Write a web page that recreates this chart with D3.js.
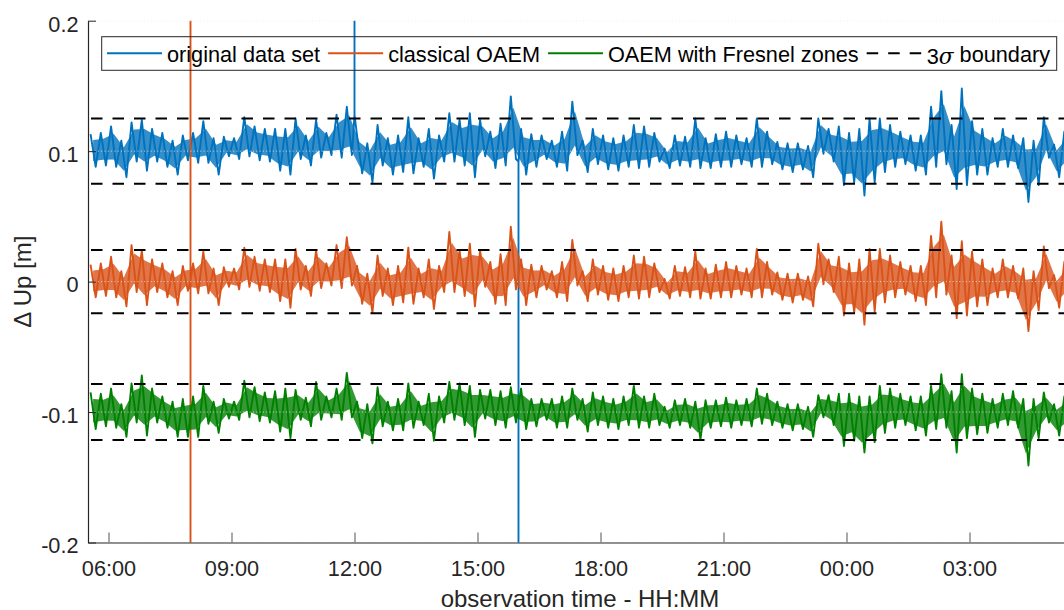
<!DOCTYPE html>
<html>
<head>
<meta charset="utf-8">
<script src="https://cdn.jsdelivr.net/npm/d3@7"></script>
<style>
body { margin: 0; background: #fff; }
svg { display: block; font-family: "Liberation Sans", Arial, Helvetica, sans-serif; }
</style>
</head>
<body>
<script>
// samples are 15 minute bins starting at 05:30, for each bin the highest and lowest value (m)
var binStart = "05:30";
var binMinutes = 15;

var blueHi = [
  0.113,0.114,0.119,0.108,0.122,0.124,0.117,0.114,0.108,0.112,0.114,0.123,
  0.110,0.111,0.110,0.126,0.119,0.117,0.117,0.117,0.125,0.112,0.124,0.114,
  0.128,0.134,0.112,0.106,0.120,0.110,0.112,0.126,0.110,0.117,0.112,0.129,
  0.124,0.129,0.124,0.115,0.121,0.142,0.117,0.113,0.112,0.108,0.115,0.138,
  0.108,0.117,0.112,0.110,0.112,0.120,0.119,0.114,0.102,0.112,0.111,0.125,
  0.110,0.113,0.115,0.112,0.110,0.125,0.115,0.107,0.106,0.106,0.104,0.125,
  0.117,0.119,0.114,0.117,0.125,0.125,0.120,0.115,0.112,0.112,0.134,0.146,
  0.120,0.148,0.123,0.117,0.110,0.117,0.112,0.110,0.108,0.126,0.105,0.115];
var blueLo = [
  0.088,0.089,0.088,0.080,0.092,0.085,0.092,0.088,0.082,0.093,0.091,0.091,
  0.082,0.096,0.094,0.096,0.093,0.092,0.085,0.082,0.094,0.089,0.095,0.097,
  0.095,0.097,0.083,0.076,0.089,0.082,0.084,0.083,0.088,0.079,0.092,0.092,
  0.089,0.080,0.096,0.087,0.089,0.094,0.082,0.088,0.094,0.088,0.085,0.097,
  0.084,0.090,0.086,0.085,0.088,0.087,0.088,0.092,0.087,0.089,0.088,0.087,
  0.087,0.088,0.088,0.090,0.088,0.088,0.090,0.086,0.084,0.086,0.080,0.098,
  0.092,0.074,0.076,0.066,0.076,0.084,0.088,0.090,0.085,0.082,0.088,0.090,
  0.071,0.074,0.082,0.082,0.088,0.088,0.087,0.061,0.074,0.095,0.080,0.088];

var orangeHi = [
  0.013,0.014,0.019,0.008,0.028,0.024,0.017,0.014,0.008,0.012,0.014,0.023,
  0.010,0.011,0.010,0.026,0.019,0.017,0.017,0.017,0.025,0.012,0.024,0.014,
  0.028,0.034,0.012,0.006,0.020,0.010,0.012,0.026,0.010,0.017,0.012,0.038,
  0.024,0.029,0.024,0.015,0.021,0.042,0.017,0.013,0.012,0.008,0.015,0.032,
  0.008,0.017,0.012,0.010,0.012,0.020,0.019,0.014,0.002,0.012,0.011,0.023,
  0.010,0.013,0.015,0.012,0.010,0.025,0.015,0.007,0.006,0.006,0.004,0.029,
  0.017,0.019,0.014,0.017,0.025,0.025,0.020,0.015,0.012,0.012,0.035,0.046,
  0.020,0.031,0.023,0.017,0.010,0.017,0.012,0.010,0.008,0.027,0.005,0.015];
var orangeLo = [
  -0.012,-0.011,-0.012,-0.019,-0.008,-0.018,-0.008,-0.012,-0.018,-0.007,-0.009,-0.009,
  -0.018,-0.004,-0.006,-0.004,-0.007,-0.008,-0.015,-0.020,-0.006,-0.011,-0.005,-0.003,
  -0.005,-0.003,-0.017,-0.024,-0.011,-0.018,-0.016,-0.017,-0.012,-0.021,-0.008,-0.008,
  -0.011,-0.019,-0.004,-0.017,-0.018,-0.006,-0.018,-0.012,-0.006,-0.012,-0.015,-0.003,
  -0.015,-0.010,-0.014,-0.015,-0.012,-0.013,-0.012,-0.008,-0.013,-0.011,-0.012,-0.013,
  -0.013,-0.012,-0.012,-0.010,-0.012,-0.012,-0.010,-0.014,-0.016,-0.014,-0.019,-0.002,
  -0.008,-0.026,-0.024,-0.033,-0.023,-0.016,-0.012,-0.010,-0.015,-0.018,-0.012,-0.010,
  -0.028,-0.026,-0.019,-0.018,-0.012,-0.012,-0.013,-0.038,-0.022,-0.005,-0.020,-0.012];

var greenHi = [
  -0.085,-0.086,-0.082,-0.094,-0.078,-0.072,-0.082,-0.088,-0.092,-0.090,-0.088,-0.080,
  -0.092,-0.090,-0.092,-0.076,-0.081,-0.085,-0.084,-0.082,-0.083,-0.089,-0.077,-0.088,
  -0.082,-0.070,-0.092,-0.094,-0.081,-0.092,-0.090,-0.078,-0.092,-0.086,-0.088,-0.077,
  -0.078,-0.080,-0.083,-0.083,-0.084,-0.081,-0.082,-0.090,-0.090,-0.090,-0.088,-0.082,
  -0.090,-0.085,-0.088,-0.090,-0.088,-0.080,-0.088,-0.086,-0.096,-0.091,-0.090,-0.092,
  -0.091,-0.091,-0.089,-0.091,-0.090,-0.082,-0.086,-0.092,-0.094,-0.094,-0.096,-0.087,
  -0.087,-0.086,-0.086,-0.088,-0.088,-0.080,-0.082,-0.086,-0.088,-0.088,-0.080,-0.071,
  -0.084,-0.071,-0.082,-0.086,-0.090,-0.086,-0.084,-0.090,-0.090,-0.085,-0.094,-0.088];
var greenLo = [
  -0.113,-0.111,-0.112,-0.119,-0.108,-0.118,-0.108,-0.112,-0.119,-0.119,-0.119,-0.109,
  -0.116,-0.105,-0.106,-0.104,-0.107,-0.108,-0.115,-0.120,-0.106,-0.111,-0.106,-0.104,
  -0.106,-0.104,-0.120,-0.124,-0.111,-0.114,-0.114,-0.112,-0.110,-0.122,-0.108,-0.106,
  -0.110,-0.119,-0.105,-0.110,-0.112,-0.108,-0.113,-0.111,-0.106,-0.112,-0.112,-0.106,
  -0.115,-0.110,-0.112,-0.113,-0.110,-0.112,-0.112,-0.110,-0.112,-0.110,-0.112,-0.121,
  -0.112,-0.111,-0.112,-0.110,-0.111,-0.109,-0.110,-0.112,-0.114,-0.113,-0.119,-0.104,
  -0.110,-0.126,-0.122,-0.131,-0.123,-0.116,-0.112,-0.110,-0.114,-0.118,-0.113,-0.112,
  -0.131,-0.120,-0.117,-0.116,-0.112,-0.110,-0.112,-0.141,-0.120,-0.108,-0.118,-0.112];

// single-sample outliers (go far off the axis)
var spikeTimes = ["08:00", "12:00", "16:00"];
var spikeSeries = [1, 0, 0];
var spikeBase = [0.001, 0.128, 0.092];
var spikePeaks = [[0.4, -0.4], [0.4], [-0.4]];

// 3 sigma boundaries per series
var sigmaUpper = [0.125, 0.0243, -0.0785];
var sigmaLower = [0.075, -0.0243, -0.1215];

var seriesNames = ["original data set", "classical OAEM", "OAEM with Fresnel zones"];
var seriesColors = ["#0072BD", "#D95319", "#008000"];
var yTicks = [-0.2, -0.1, 0, 0.1, 0.2];

var w = 1064, h = 610;
var plotLeft = 88, plotRight = 1072, plotTop = 20.7, plotBottom = 542.5;

var svg = d3.select("body").append("svg")
  .attr("width", w)
  .attr("height", h);

var parseHM = d3.timeParse("%H:%M");
var t0 = parseHM(binStart);
var binMs = binMinutes * 60000;
var x = d3.scaleTime()
  .domain([t0, d3.timeHour.offset(t0, 24)])
  .range([plotLeft, plotRight]);
var y = d3.scaleLinear()
  .domain([-0.2, 0.2])
  .range([plotBottom, plotTop]);

svg.append("clipPath").attr("id", "plotclip")
  .append("rect")
  .attr("x", plotLeft).attr("y", plotTop)
  .attr("width", plotRight - plotLeft).attr("height", plotBottom - plotTop);

// zigzag through the bin extremes, plus the outliers
function buildPoints(hi, lo, k) {
  var pts = [];
  hi.forEach(function(v, i) {
    var s = +t0 + i * binMs;
    pts.push({t: new Date(s + binMs * 0.25), v: v, o: 0});
    pts.push({t: new Date(s + binMs * 0.75), v: lo[i], o: 0});
  });
  spikeTimes.forEach(function(st, j) {
    if (spikeSeries[j] !== k) return;
    var ts = parseHM(st);
    pts.push({t: ts, v: spikeBase[j], o: 1});
    spikePeaks[j].forEach(function(p, m) { pts.push({t: ts, v: p, o: 2 + m}); });
    pts.push({t: ts, v: spikeBase[j], o: 9});
  });
  pts.sort(function(a, b) { return (a.t - b.t) || (a.o - b.o); });
  return pts;
}

// band between bin extremes
function buildBand(hi, lo) {
  return hi.map(function(v, i) {
    return {t: new Date(+t0 + (i + 0.5) * binMs), hi: v, lo: lo[i]};
  });
}

var his = [blueHi, orangeHi, greenHi];
var los = [blueLo, orangeLo, greenLo];

var line = d3.line()
  .x(function(d) { return x(d.t); })
  .y(function(d) { return y(d.v); });

var band = d3.area()
  .x(function(d) { return x(d.t); })
  .y0(function(d) { return y(d.lo + (d.hi - d.lo) * 0.18); })
  .y1(function(d) { return y(d.hi - (d.hi - d.lo) * 0.18); });

var plot = svg.append("g").attr("clip-path", "url(#plotclip)");

var groups = plot.selectAll("g.series")
  .data(seriesColors)
  .enter()
  .append("g")
  .attr("class", "series");

groups.append("path")
  .attr("d", function(c, i) { return band(buildBand(his[i], los[i])); })
  .attr("fill", function(c) { return c; })
  .attr("fill-opacity", 0.8)
  .attr("stroke", "none");

groups.append("path")
  .attr("d", function(c, i) { return line(buildPoints(his[i], los[i], i)); })
  .attr("fill", "none")
  .attr("stroke", function(c) { return c; })
  .attr("stroke-width", 1.9)
  .attr("stroke-linejoin", "round");

// 3 sigma dashed lines
var bounds = sigmaUpper.concat(sigmaLower);
plot.selectAll("line.sigma")
  .data(bounds)
  .enter()
  .append("line")
  .attr("class", "sigma")
  .attr("x1", plotLeft).attr("x2", plotRight)
  .attr("y1", function(d) { return y(d); })
  .attr("y2", function(d) { return y(d); })
  .attr("stroke", "#000")
  .attr("stroke-width", 2)
  .attr("stroke-dasharray", "11.5,10")
  .attr("stroke-dashoffset", -3);

// dotted grid, drawn on top like the original
plot.selectAll("line.grid")
  .data(yTicks)
  .enter()
  .append("line")
  .attr("class", "grid")
  .attr("x1", plotLeft).attr("x2", plotRight)
  .attr("y1", function(d) { return y(d); })
  .attr("y2", function(d) { return y(d); })
  .attr("stroke", "#d4d4d4")
  .attr("stroke-width", 1)
  .attr("stroke-dasharray", "1,2.3");

// axes
var xAxis = d3.axisBottom(x)
  .ticks(d3.timeHour.every(3))
  .tickFormat(d3.timeFormat("%H:%M"))
  .tickSizeInner(-10)
  .tickSizeOuter(0);

var gx = svg.append("g")
  .attr("transform", "translate(0," + plotBottom + ")")
  .call(xAxis);
gx.select(".domain").attr("stroke", "#262626").attr("stroke-width", 1.2);
gx.selectAll(".tick line").attr("stroke", "#7a7a7a").attr("stroke-width", 1.3);
gx.selectAll(".tick text")
  .attr("y", 33.5)
  .attr("dy", null)
  .attr("fill", "#262626")
  .style("font-size", "21.7px")
  .style("font-family", "'Liberation Sans', Arial, sans-serif");

var yAxis = d3.axisLeft(y)
  .tickValues(yTicks)
  .tickFormat(function(d) { return String(d); })
  .tickSizeInner(-8)
  .tickSizeOuter(0);

var gy = svg.append("g")
  .attr("transform", "translate(" + plotLeft + ",0)")
  .call(yAxis);
gy.select(".domain").attr("stroke", "#262626").attr("stroke-width", 1.2);
gy.selectAll(".tick line").attr("stroke", "#262626").attr("stroke-width", 1);
gy.selectAll(".tick text")
  .attr("x", -9.5)
  .attr("dy", null)
  .attr("y", 10.3)
  .attr("fill", "#262626")
  .style("font-size", "21.7px")
  .style("font-family", "'Liberation Sans', Arial, sans-serif");

// axis labels
svg.append("text")
  .attr("x", (plotLeft + plotRight) / 2)
  .attr("y", 606.5)
  .attr("text-anchor", "middle")
  .attr("fill", "#262626")
  .style("font-size", "24px")
  .text("observation time - HH:MM");

svg.append("text")
  .attr("transform", "translate(31," + ((plotTop + plotBottom) / 2) + ") rotate(-90)")
  .attr("text-anchor", "middle")
  .attr("fill", "#262626")
  .style("font-size", "24px")
  .text("\u0394 Up [m]");

// legend
var legend = svg.append("g");
legend.append("rect")
  .attr("x", 101.7).attr("y", 36.7)
  .attr("width", 955).attr("height", 33.6)
  .attr("fill", "none")
  .attr("stroke", "#262626")
  .attr("stroke-width", 1);

var items = seriesNames.map(function(n, i) { return {name: n, color: seriesColors[i], dash: null}; });
items.push({name: "boundary", color: "#000", dash: "11.5,10"});

var lx = 107;
items.forEach(function(it, i) {
  legend.append("line")
    .attr("x1", lx).attr("x2", lx + 55)
    .attr("y1", 53.3).attr("y2", 53.3)
    .attr("stroke", it.color)
    .attr("stroke-width", 2)
    .attr("stroke-dasharray", it.dash);
  var t = legend.append("text")
    .attr("x", lx + 60)
    .attr("y", 61.5)
    .attr("fill", "#000")
    .style("font-size", "21.7px");
  if (it.dash) {
    t.append("tspan").attr("dy", 2).text("3");
    t.append("tspan").style("font-style", "italic")
      .style("font-family", "'DejaVu Serif', 'Liberation Serif', serif").text("\u03C3");
    t.append("tspan").attr("dy", -2).text(" " + it.name);
  } else {
    t.text(it.name);
  }
  lx = lx + 60 + t.node().getComputedTextLength() + 8;
});
</script>
</body>
</html>
